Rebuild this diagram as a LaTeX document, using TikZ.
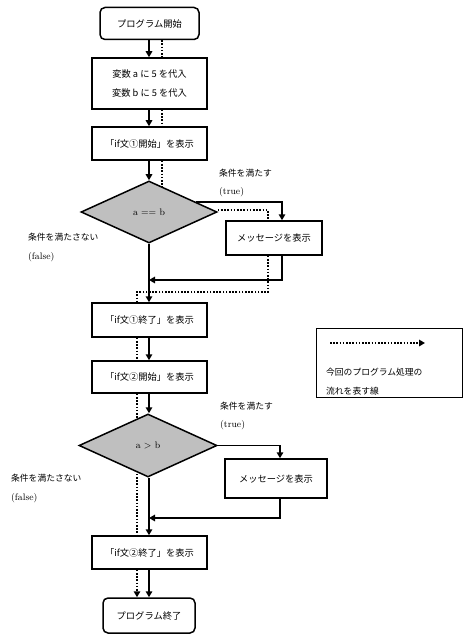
\documentclass[tikz,border=0pt]{standalone}
\usepackage{fontspec}
\setmainfont{Noto Sans CJK JP}
\newfontfamily\latinserif{Latin Modern Roman}
\usetikzlibrary{shapes.geometric,arrows.meta,calc}
\pgfdeclarelayer{bg}
\pgfsetlayers{bg,main}
\begin{document}
\begin{tikzpicture}[x=1bp,y=-1bp,
  every node/.style={font=\fontsize{9.3}{11}\selectfont},
  boxst/.style={draw,line width=1.5bp,fill=white,minimum width=115bp,inner sep=0pt,align=center},
  termst/.style={draw,line width=1.5bp,fill=white,rounded corners=5bp,inner sep=0pt},
  decst/.style={draw,diamond,line width=1.5bp,fill=gray!50,inner sep=0pt,minimum width=136bp,minimum height=62bp,font=\latinserif\fontsize{9.5}{11}\selectfont},
  lab/.style={anchor=west,inner sep=0pt,font=\fontsize{8.8}{10}\selectfont},
  labs/.style={anchor=west,inner sep=0pt,font=\latinserif\fontsize{9.5}{11}\selectfont},
  conn/.style={line width=1.5bp,-{Triangle[length=6bp,width=6.5bp]}},
  dots/.style={line width=1.8bp,dash pattern=on 1.6bp off 1.6bp},
  dotarr/.style={dots,-{Triangle[length=6bp,width=6.5bp]}}
]
\useasboundingbox (0,0) rectangle (476,641);
% nodes
\node[termst,minimum width=99bp,minimum height=32bp] (start) at (149.5,23.5) {プログラム開始};
\node[boxst,minimum height=51bp] (b2) at (149.5,83.5) {変数 a に 5 を代入\\[8bp]変数 b に 5 を代入};
\node[boxst,minimum height=33bp] (b3) at (149.5,143.5) {「if文①開始」を表示};
\node[decst] (d1) at (149,212) {a == b};
\node[boxst,minimum width=96bp,minimum height=34bp] (m1) at (274,238) {メッセージを表示};
\node[boxst,minimum height=34bp] (b4) at (149.5,320) {「if文①終了」を表示};
\node[boxst,minimum height=32bp] (b5) at (149.5,377) {「if文②開始」を表示};
\node[decst,minimum width=138bp,minimum height=63bp] (d2) at (148,445.5) {a > b};
\node[boxst,minimum width=102bp,minimum height=39bp] (m2) at (276,478.5) {メッセージを表示};
\node[boxst,minimum height=33bp] (b6) at (149.5,552.5) {「if文②終了」を表示};
\node[termst,minimum width=92bp,minimum height=35bp] (end) at (149,615.5) {プログラム終了};
% legend
\node[draw,line width=1bp,minimum width=146bp,minimum height=69bp,inner sep=0pt] (leg) at (389,362.5) {};
\coordinate (la) at (330,343);
\coordinate (lb) at (425,343);
\draw[dotarr] (la) -- (lb);
\node[lab] (lt1) at (326,372) {今回のプログラム処理の};
\node[lab] (lt2) at (326,391) {流れを表す線};
% labels
\node[lab] (t1a) at (219,173) {条件を満たす};
\node[labs] (t1b) at (219,192) {(true)};
\node[lab] (f1a) at (28,237) {条件を満たさない};
\node[labs] (f1b) at (28,257) {(false)};
\node[lab] (t2a) at (220,406) {条件を満たす};
\node[labs] (t2b) at (220,425) {(true)};
\node[lab] (f2a) at (11,478) {条件を満たさない};
\node[labs] (f2b) at (11,498) {(false)};
% solid connectors
\coordinate (j1) at (149,280);
\coordinate (j2) at (149,518);
\draw[conn] (start.south -| 149,0) -- (b2.north -| 149,0);
\draw[conn] (b2.south -| 149,0) -- (b3.north -| 149,0);
\draw[conn] (b3.south -| 149,0) -- (d1.north);
\draw[conn] (d1.south) -- (b4.north -| d1.south);
\draw[conn] ($(d1.north)!0.68!(d1.east)$) -| ([xshift=8bp]m1.north);
\draw[conn] ([xshift=8bp]m1.south) |- (j1);
\draw[conn] (b4.south -| 149,0) -- (b5.north -| 149,0);
\draw[conn] (b5.south -| 149,0) -- (d2.north -| 149,0);
\draw[conn] (d2.south -| 149,0) -- (b6.north -| 149,0);
\draw[conn] (d2.east) -| ([xshift=4bp]m2.north);
\draw[conn] ([xshift=4bp]m2.south) |- (j2);
\draw[conn] (b6.south -| 149,0) -- (end.north -| 149,0);
% dotted flow
\begin{pgfonlayer}{bg}
\draw[dots] (start.south -| 162,0) -- (b2.north -| 162,0);
\draw[dots] (b2.south -| 162,0) -- (b3.north -| 162,0);
\draw[dots] (b3.south -| 162,0) -- (d1.center -| 162,0);
\coordinate (p1) at (268,210);
\coordinate (p2) at (268,292);
\coordinate (p3) at (137,292);
\draw[dots] (d1.east |- p1) -- (p1) -- (m1.north -| p1);
\draw[dots] (m1.south -| p1) -- (p2) -- (p3) -- (b4.north -| p3);
\draw[dots] (b4.south -| p3) -- (b5.north -| p3);
\draw[dots] (b5.south -| p3) -- (b6.north -| p3);
\end{pgfonlayer}
\draw[dotarr] (b6.south -| p3) -- (end.north -| p3);
\end{tikzpicture}
\end{document}
